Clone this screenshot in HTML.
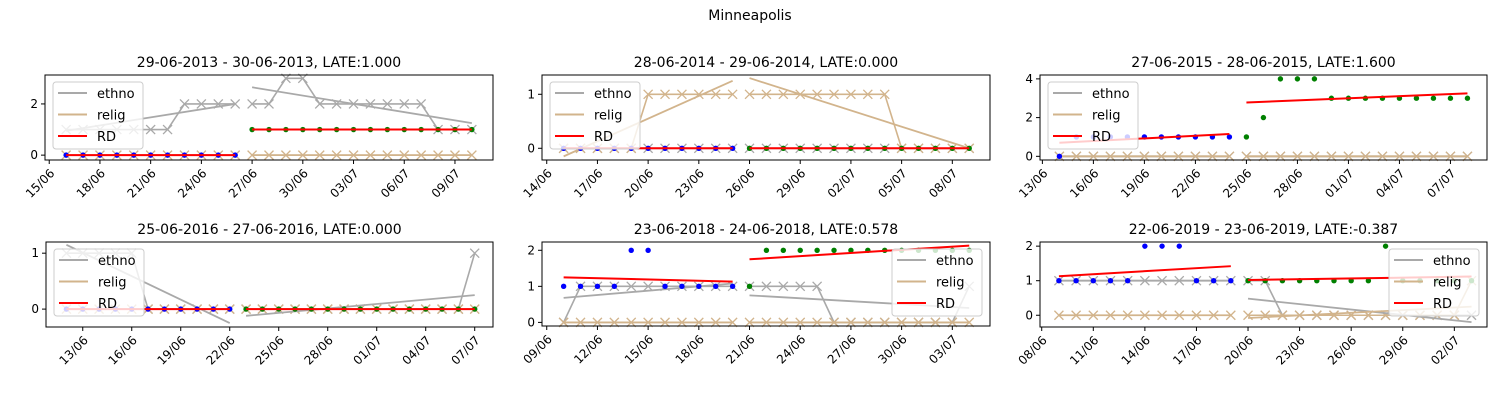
<!DOCTYPE html>
<html><head><meta charset="utf-8"><style>
body{margin:0;background:#fff}
svg{display:block;font-family:"DejaVu Sans","Liberation Sans",sans-serif}
</style></head><body>
<svg id="chart" width="1500" height="400" viewBox="0 0 1500 400">
<rect width="1500" height="400" fill="#fff"/>
<text x="750" y="20" text-anchor="middle" font-size="14">Minneapolis</text>
</svg>
<script>
// ---- Panel data (days: June d = d, July d = 30+d) ----
const p1Title = "29-06-2013 - 30-06-2013, LATE:1.000";
const p1PreDays = [16,17,18,19,20,21,22,23,24,25,26];
const p1PostDays = [27,28,29,30,31,32,33,34,35,36,37,38,39,40];
const p1EthnoPre = [1,1,1,1,1,1,1,2,2,2,2];
const p1EthnoPost = [2,2,3,3,2,2,2,2,2,2,2,1,1,1];
const p1ReligPre = [0,0,0,0,0,0,0,0,0,0,0];
const p1ReligPost = [0,0,0,0,0,0,0,0,0,0,0,0,0,0];
const p1RdPre = [0,0,0,0,0,0,0,0,0,0,0];
const p1RdPost = [1,1,1,1,1,1,1,1,1,1,1,1,1,1];
const p1EthnoFit = [0.95,2.0,2.65,1.25];
const p1ReligFit = [0,0,0,0];
const p1RdFit = [0,0,1,1];
const p1YTicks = [0,2];
const p1XTicks = [15,18,21,24,27,30,33,36,39];

const p2Title = "28-06-2014 - 29-06-2014, LATE:0.000";
const p2PreDays = [15,16,17,18,19,20,21,22,23,24,25];
const p2PostDays = [26,27,28,29,30,31,32,33,34,35,36,37,38,39];
const p2EthnoPre = [0,0,0,0,0,0,0,0,0,0,0];
const p2EthnoPost = [0,0,0,0,0,0,0,0,0,0,0,0,0,0];
const p2ReligPre = [0,0,0,0,0,1,1,1,1,1,1];
const p2ReligPost = [1,1,1,1,1,1,1,1,1,0,0,0,0,0];
const p2RdPre = [0,0,0,0,0,0,0,0,0,0,0];
const p2RdPost = [0,0,0,0,0,0,0,0,0,0,0,0,0,0];
const p2EthnoFit = [0,0,0,0];
const p2ReligFit = [-0.15,1.25,1.3,0.0];
const p2RdFit = [0,0,0,0];
const p2YTicks = [0,1];
const p2XTicks = [14,17,20,23,26,29,32,35,38];

const p3Title = "27-06-2015 - 28-06-2015, LATE:1.600";
const p3PreDays = [14,15,16,17,18,19,20,21,22,23,24];
const p3PostDays = [25,26,27,28,29,30,31,32,33,34,35,36,37,38];
const p3EthnoPre = [0,0,0,0,0,0,0,0,0,0,0];
const p3EthnoPost = [0,0,0,0,0,0,0,0,0,0,0,0,0,0];
const p3ReligPre = [0,0,0,0,0,0,0,0,0,0,0];
const p3ReligPost = [0,0,0,0,0,0,0,0,0,0,0,0,0,0];
const p3RdPre = [0,1,1,1,1,1,1,1,1,1,1];
const p3RdPost = [1,2,4,4,4,3,3,3,3,3,3,3,3,3];
const p3EthnoFit = [0,0,0,0];
const p3ReligFit = [0,0,0,0];
const p3RdFit = [0.7,1.15,2.78,3.25];
const p3YTicks = [0,2,4];
const p3XTicks = [13,16,19,22,25,28,31,34,37];

const p4Title = "25-06-2016 - 27-06-2016, LATE:0.000";
const p4PreDays = [12,13,14,15,16,17,18,19,20,21,22];
const p4PostDays = [23,24,25,26,27,28,29,30,31,32,33,34,35,36,37];
const p4EthnoPre = [1,1,1,1,1,0,0,0,0,0,0];
const p4EthnoPost = [0,0,0,0,0,0,0,0,0,0,0,0,0,0,1];
const p4ReligPre = [0,0,0,0,0,0,0,0,0,0,0];
const p4ReligPost = [0,0,0,0,0,0,0,0,0,0,0,0,0,0,0];
const p4RdPre = [0,0,0,0,0,0,0,0,0,0,0];
const p4RdPost = [0,0,0,0,0,0,0,0,0,0,0,0,0,0,0];
const p4EthnoFit = [1.15,-0.25,-0.12,0.25];
const p4ReligFit = [0,0,0,0];
const p4RdFit = [0,0,0,0];
const p4YTicks = [0,1];
const p4XTicks = [13,16,19,22,25,28,31,34,37];

const p5Title = "23-06-2018 - 24-06-2018, LATE:0.578";
const p5PreDays = [10,11,12,13,14,15,16,17,18,19,20];
const p5PostDays = [21,22,23,24,25,26,27,28,29,30,31,32,33,34];
const p5EthnoPre = [0,1,1,1,1,1,1,1,1,1,1];
const p5EthnoPost = [1,1,1,1,1,0,0,0,0,0,0,0,0,1];
const p5ReligPre = [0,0,0,0,0,0,0,0,0,0,0];
const p5ReligPost = [0,0,0,0,0,0,0,0,0,0,0,0,0,0];
const p5RdPre = [1,1,1,1,2,2,1,1,1,1,1];
const p5RdPost = [1,2,2,2,2,2,2,2,2,2,2,2,2,2];
const p5EthnoFit = [0.68,1.08,0.75,0.4];
const p5ReligFit = [0,0,0,0];
const p5RdFit = [1.25,1.13,1.75,2.13];
const p5YTicks = [0,1,2];
const p5XTicks = [9,12,15,18,21,24,27,30,33];

const p6Title = "22-06-2019 - 23-06-2019, LATE:-0.387";
const p6PreDays = [9,10,11,12,13,14,15,16,17,18,19];
const p6PostDays = [20,21,22,23,24,25,26,27,28,29,30,31,32,33];
const p6EthnoPre = [1,1,1,1,1,1,1,1,1,1,1];
const p6EthnoPost = [1,1,0,0,0,0,0,0,0,0,0,0,0,0];
const p6ReligPre = [0,0,0,0,0,0,0,0,0,0,0];
const p6ReligPost = [0,0,0,0,0,0,0,0,0,0,0,0,0,1];
const p6RdPre = [1,1,1,1,1,2,2,2,1,1,1];
const p6RdPost = [1,1,1,1,1,1,1,1,2,1,1,1,1,1];
const p6EthnoFit = [1,1,0.48,-0.2];
const p6ReligFit = [0,0,-0.08,0.25];
const p6RdFit = [1.13,1.42,1.02,1.12];
const p6YTicks = [0,1,2];
const p6XTicks = [8,11,14,17,20,23,26,29,32];

// ---- layout ----
const panels = [
 {t:p1Title,pre:p1PreDays,post:p1PostDays,eP:p1EthnoPre,eQ:p1EthnoPost,rP:p1ReligPre,rQ:p1ReligPost,dP:p1RdPre,dQ:p1RdPost,eF:p1EthnoFit,rF:p1ReligFit,dF:p1RdFit,yt:p1YTicks,xt:p1XTicks,
  box:[45,75,493,160],xl:[14.75,41.25],yl:[-0.19,3.13],leg:'left'},
 {t:p2Title,pre:p2PreDays,post:p2PostDays,eP:p2EthnoPre,eQ:p2EthnoPost,rP:p2ReligPre,rQ:p2ReligPost,dP:p2RdPre,dQ:p2RdPost,eF:p2EthnoFit,rF:p2ReligFit,dF:p2RdFit,yt:p2YTicks,xt:p2XTicks,
  box:[542,75,990,160],xl:[13.72,40.23],yl:[-0.217,1.357],leg:'left'},
 {t:p3Title,pre:p3PreDays,post:p3PostDays,eP:p3EthnoPre,eQ:p3EthnoPost,rP:p3ReligPre,rQ:p3ReligPost,dP:p3RdPre,dQ:p3RdPost,eF:p3EthnoFit,rF:p3ReligFit,dF:p3RdFit,yt:p3YTicks,xt:p3XTicks,
  box:[1040,75,1487,160],xl:[12.86,39.15],yl:[-0.19,4.2],leg:'left'},
 {t:p4Title,pre:p4PreDays,post:p4PostDays,eP:p4EthnoPre,eQ:p4EthnoPost,rP:p4ReligPre,rQ:p4ReligPost,dP:p4RdPre,dQ:p4RdPost,eF:p4EthnoFit,rF:p4ReligFit,dF:p4RdFit,yt:p4YTicks,xt:p4XTicks,
  box:[46,242,493,327],xl:[10.75,38.12],yl:[-0.32,1.2],leg:'left'},
 {t:p5Title,pre:p5PreDays,post:p5PostDays,eP:p5EthnoPre,eQ:p5EthnoPost,rP:p5ReligPre,rQ:p5ReligPost,dP:p5RdPre,dQ:p5RdPost,eF:p5EthnoFit,rF:p5ReligFit,dF:p5RdFit,yt:p5YTicks,xt:p5XTicks,
  box:[542,242,990,326],xl:[8.72,35.23],yl:[-0.1,2.23],leg:'right'},
 {t:p6Title,pre:p6PreDays,post:p6PostDays,eP:p6EthnoPre,eQ:p6EthnoPost,rP:p6ReligPre,rQ:p6ReligPost,dP:p6RdPre,dQ:p6RdPost,eF:p6EthnoFit,rF:p6ReligFit,dF:p6RdFit,yt:p6YTicks,xt:p6XTicks,
  box:[1040,242,1487,327],xl:[7.9,33.9],yl:[-0.34,2.12],leg:'right'}
];
const NS="http://www.w3.org/2000/svg";
const svg=document.getElementById('chart');
function mk(tag,attrs,parent){const e=document.createElementNS(NS,tag);for(const k in attrs)e.setAttribute(k,attrs[k]);(parent||svg).appendChild(e);return e;}
function lab(d){return d<=30?String(d).padStart(2,'0')+'/06':String(d-30).padStart(2,'0')+'/07';}
const ETH="#a9a9a9",REL="#d2b48c";

panels.forEach((p,i)=>{
 const [L,T,R,B]=p.box;
 const g=mk('g',{});
 
 
 const X=d=>L+(d-p.xl[0])/(p.xl[1]-p.xl[0])*(R-L);
 const Y=v=>B-(v-p.yl[0])/(p.yl[1]-p.yl[0])*(B-T);
 const title=mk('text',{x:(L+R)/2,y:T-8,'text-anchor':'middle','font-size':14},g);
 title.textContent=p.t;
 
 
 function series(days,vals,col,name){
  const pl=mk('polyline',{points:days.map((d,j)=>X(d)+','+Y(vals[j])).join(' '),fill:'none',stroke:col,'stroke-width':1.6},g);
  
  
  days.forEach((d,j)=>{const x=X(d),y=Y(vals[j]);
   const m=mk('path',{d:`M${x-4.5},${y-4.5}L${x+4.5},${y+4.5}M${x-4.5},${y+4.5}L${x+4.5},${y-4.5}`,stroke:col,'stroke-width':1.3},g);
   
   });
 }
 series(p.pre,p.eP,ETH,'ethno-pre');
 series(p.post,p.eQ,ETH,'ethno-post');
 series(p.pre,p.rP,REL,'relig-pre');
 series(p.post,p.rQ,REL,'relig-post');
 function fit(f,col,name){
  const a=mk('line',{x1:X(p.pre[0]),y1:Y(f[0]),x2:X(p.pre[p.pre.length-1]),y2:Y(f[1]),stroke:col,'stroke-width':name=='rd'?2:1.8},g);
  
  
  const b=mk('line',{x1:X(p.post[0]),y1:Y(f[2]),x2:X(p.post[p.post.length-1]),y2:Y(f[3]),stroke:col,'stroke-width':name=='rd'?2:1.8},g);
  
  
 }
 fit(p.eF,ETH,'ethno');
 fit(p.rF,REL,'relig');
 p.pre.forEach((d,j)=>{const c=mk('circle',{cx:X(d),cy:Y(p.dP[j]),r:2.7,fill:'#0000ff'},g);
  
  });
 p.post.forEach((d,j)=>{const c=mk('circle',{cx:X(d),cy:Y(p.dQ[j]),r:2.7,fill:'#008000'},g);
  
  });
 fit(p.dF,'#ff0000','rd');
 const fr=mk('rect',{x:L,y:T,width:R-L,height:B-T,fill:'none',stroke:'#000','stroke-width':1},g);
 
 
 p.yt.forEach(v=>{const y=Y(v);
  mk('line',{x1:L-4,y1:y,x2:L,y2:y,stroke:'#000'},g);
  const t=mk('text',{x:L-7,y:y+4,'text-anchor':'end','font-size':12},g);t.textContent=v;
  
  });
 p.xt.forEach(d=>{const x=X(d);
  mk('line',{x1:x,y1:B,x2:x,y2:B+4,stroke:'#000'},g);
  const t=mk('text',{transform:`translate(${x+6},${B+14}) rotate(-45)`,'text-anchor':'end','font-size':12},g);t.textContent=lab(d);
  
  });
 const lx=p.leg=='left'?L+8:R-98, ly=T+7;
 const lg=mk('g',{},g);
 
 
 mk('rect',{x:lx,y:ly,width:90,height:67,rx:3,fill:'#fff','fill-opacity':0.8,stroke:'#ccc'},lg);
 [['ethno',ETH],['relig',REL],['RD','#ff0000']].forEach((e,k)=>{const yy=ly+11+k*21.5;
  mk('line',{x1:lx+5,y1:yy,x2:lx+34,y2:yy,stroke:e[1],'stroke-width':2},lg);
  const t=mk('text',{x:lx+44,y:yy+5,'font-size':13},lg);t.textContent=e[0];
  
  });
});
</script>
</body></html>
